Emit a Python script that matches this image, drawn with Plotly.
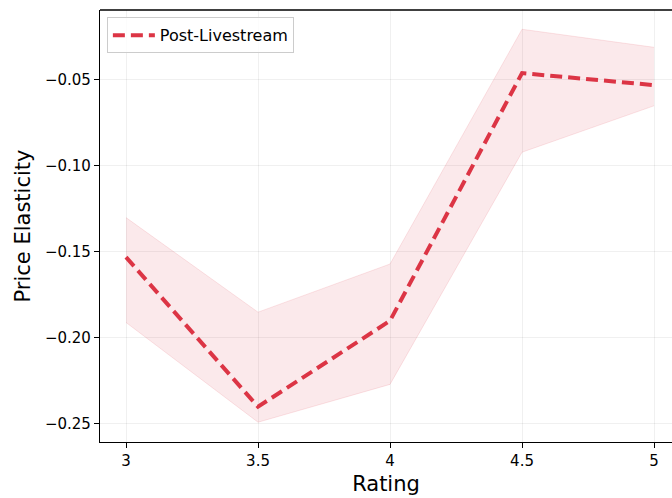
import plotly.graph_objects as go

# Price elasticity by product rating after livestream events
ratings = [3.0, 3.5, 4.0, 4.5, 5.0]
elasticity = [-0.153, -0.240, -0.190, -0.046, -0.053]
upper = [-0.130, -0.185, -0.157, -0.0205, -0.031]
lower = [-0.191, -0.249, -0.227, -0.092, -0.065]

x_ticks = [3, 3.5, 4, 4.5, 5]
x_ticktext = ["3", "3.5", "4", "4.5", "5"]
y_ticks = [-0.25, -0.20, -0.15, -0.10, -0.05]
y_ticktext = ["\u22120.25", "\u22120.20", "\u22120.15", "\u22120.10", "\u22120.05"]

red = "#dc3545"
band_fill = "rgba(220,53,69,0.11)"
band_edge = "rgba(220,53,69,0.12)"

fig = go.Figure()
fig.add_trace(go.Scatter(x=ratings, y=upper, mode="lines",
                         line=dict(color=band_edge, width=1),
                         showlegend=False, hoverinfo="skip"))
fig.add_trace(go.Scatter(x=ratings, y=lower, mode="lines", fill="tonexty",
                         fillcolor=band_fill,
                         line=dict(color=band_edge, width=1),
                         showlegend=False, hoverinfo="skip"))
fig.add_trace(go.Scatter(x=ratings, y=elasticity, mode="lines",
                         name="Post-Livestream",
                         line=dict(color=red, width=4, dash="12px,6px")))

font_family = "DejaVu Sans"
fig.update_layout(
    width=672, height=498,
    margin=dict(l=100, r=0, t=10, b=56),
    paper_bgcolor="white", plot_bgcolor="white",
    font=dict(family=font_family, size=15, color="black"),
    showlegend=True,
    legend=dict(x=0.012, y=0.983, xanchor="left", yanchor="top",
                bgcolor="rgba(255,255,255,0.8)", bordercolor="#cccccc",
                borderwidth=1, itemwidth=42,
                font=dict(size=16, family=font_family)),
    xaxis=dict(range=[2.9015, 5.068], tickvals=x_ticks, ticktext=x_ticktext,
               showgrid=True, gridcolor="rgba(0,0,0,0.06)", gridwidth=1,
               showline=True, linecolor="black", linewidth=1.3,
               ticks="outside", ticklen=5, tickcolor="black",
               zeroline=False,
               title=dict(text="Rating", font=dict(size=21), standoff=7)),
    yaxis=dict(range=[-0.2605, -0.0093], tickvals=y_ticks, ticktext=y_ticktext,
               showgrid=True, gridcolor="rgba(0,0,0,0.06)", gridwidth=1,
               showline=True, linecolor="black", linewidth=1.3,
               ticks="outside", ticklen=5, tickcolor="black",
               zeroline=False,
               title=dict(text="Price Elasticity", font=dict(size=21), standoff=8)),
)
# top border of the plotting area
fig.add_shape(type="line", xref="paper", yref="paper", x0=0, x1=1, y0=1, y1=1,
              line=dict(color="black", width=1.3))

fig.write_html("out.html")
